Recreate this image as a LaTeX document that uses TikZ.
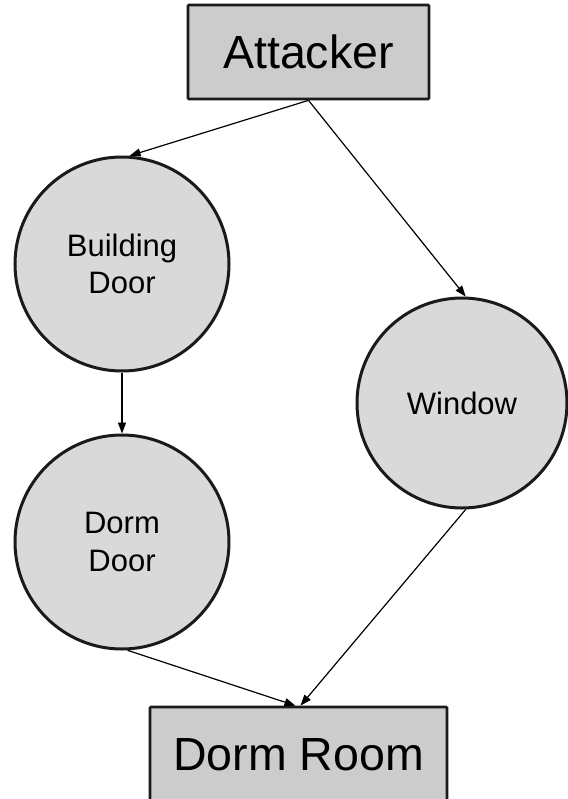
\documentclass[tikz,border=0pt]{standalone}
\usepackage{fontspec}
\setmainfont{Liberation Sans}
\usetikzlibrary{arrows.meta}
\definecolor{boxgray}{HTML}{CCCCCC}
\definecolor{circgray}{HTML}{D9D9D9}
\definecolor{edge}{HTML}{1A1A1A}
\tikzset{
  box/.style={draw=edge, fill=boxgray, line width=2.7bp, rectangle, inner sep=0pt,
    rounded corners=1bp, font=\fontsize{46.5bp}{56bp}\selectfont},
  stage/.style={draw=edge, fill=circgray, line width=3bp, circle, inner sep=0pt,
    minimum size=214bp, align=center, font=\fontsize{31bp}{37.5bp}\selectfont},
  link/.style={draw=black, line width=1.2bp, -{Triangle[length=11bp,width=8bp]}}
}
\begin{document}
\begin{tikzpicture}[x=1bp,y=-1bp]
\useasboundingbox (0,0) rectangle (568,799);
\clip (0,0) rectangle (568,799);
\fill[white] (0,0) rectangle (568,799);

\node[box, minimum width=241bp, minimum height=94bp] (att) at (308.5,52) {Attacker};
\node[stage] (bd) at (122,264) {Building\\Door};
\node[stage] (dd) at (122,542) {Dorm\\Door};
\node[stage, minimum size=210bp] (win) at (462,403) {Window};
\node[box, minimum width=297bp, minimum height=95bp] (dr) at (298.5,754.5) {Dorm Room};

\draw[link] (att.south) -- (bd.86);
\draw[link] (att.south) -- (win.88);
\draw[link] (bd.south) -- (dd.north);
\draw[link] (dd.-87) -- ([xshift=-3bp]dr.north);
\draw[link] (win.-88) -- ([xshift=2bp]dr.north);
\end{tikzpicture}
\end{document}
